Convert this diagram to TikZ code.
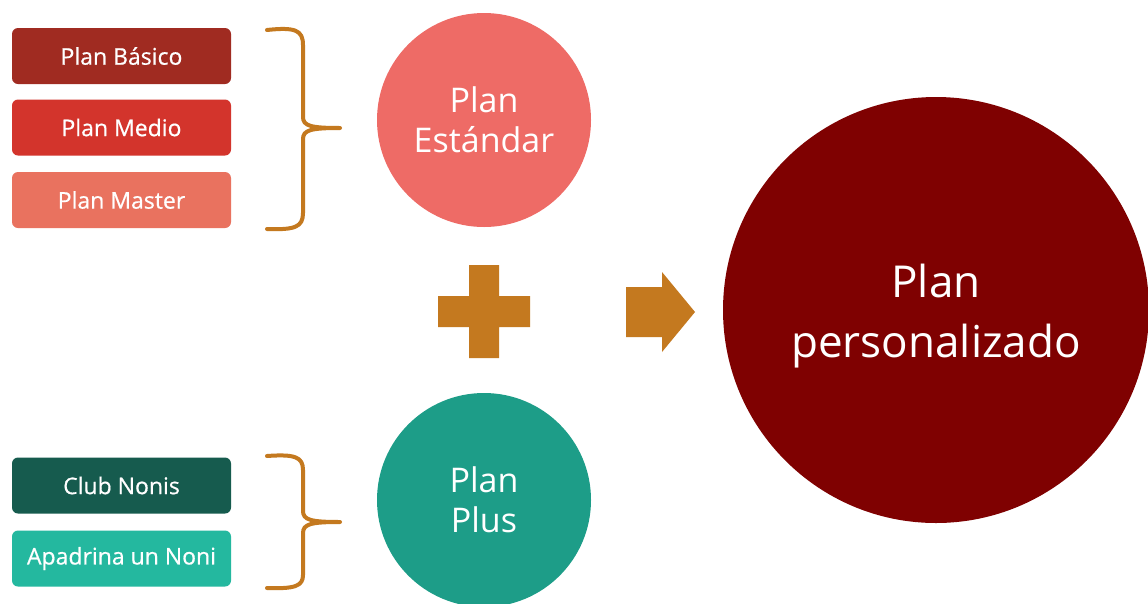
\documentclass[tikz,border=0pt]{standalone}
\usepackage{fontspec}
\setmainfont{Open Sans}
\definecolor{basicoc}{HTML}{A02B21}
\definecolor{medioc}{HTML}{D3342C}
\definecolor{masterc}{HTML}{E9725F}
\definecolor{estandarc}{HTML}{EE6B66}
\definecolor{clubc}{HTML}{165B4E}
\definecolor{apadrinac}{HTML}{24B89F}
\definecolor{plusc}{HTML}{1D9D88}
\definecolor{personalc}{HTML}{7F0101}
\definecolor{accentc}{HTML}{C4791F}
\begin{document}
\begin{tikzpicture}[x=1pt,y=-1pt,
  planbox/.style={rectangle, rounded corners=6pt, minimum width=219pt,
    minimum height=56pt, inner sep=0pt, text=white,
    font=\fontsize{23}{26}\selectfont\addfontfeature{FakeBold=0.6}},
  plancircle/.style={circle, minimum size=214pt, inner sep=0pt, text=white,
    align=center, font=\fontsize{34}{40}\selectfont},
  bracket/.style={draw=accentc, line width=4pt, line cap=round, line join=round},
  sign/.style={fill=accentc}]
\useasboundingbox (0,0) rectangle (1148,603);
\clip (0,0) rectangle (1148,603);
\fill[white] (0,0) rectangle (1148,603);

% standard plans
\node[planbox, fill=basicoc] (basico) at (121.5,56) {Plan Básico};
\node[planbox, fill=medioc] (medio) at (121.5,127.5) {Plan Medio};
\node[planbox, fill=masterc] (master) at (121.5,200) {Plan Master};

% plus options
\node[planbox, fill=clubc] (club) at (121.5,485.5) {Club Nonis};
\node[planbox, fill=apadrinac] (apadrina) at (121.5,558.5) {Apadrina un Noni};

% circles
\node[plancircle, fill=estandarc] (estandar) at (484,120) {Plan\\Estándar};
\node[plancircle, fill=plusc] (plus) at (484,500) {Plan\\Plus};
\node[circle, minimum size=426pt, inner sep=0pt, fill=personalc] (personal)
  at (936,310) {};
\node[text=white, align=center, font=\fontsize{44}{60}\selectfont]
  (personaltext) at ([yshift=-6pt]personal.center) {Plan\\personalizado};

% brackets grouping the boxes
\coordinate (tipA) at (340,128);
\coordinate (tipB) at (340,522);
\draw[bracket] (267,30) .. controls (295,27) and (303,30) .. (303,45)
  -- (303,117) .. controls (303,126) and (311,128) .. (tipA)
  .. controls (311,128) and (303,130) .. (303,139)
  -- (303,213) .. controls (303,227) and (295,230) .. (267,229);
\draw[bracket] (267,456) .. controls (295,454) and (303,457) .. (303,470)
  -- (303,511) .. controls (303,520) and (311,522) .. (tipB)
  .. controls (311,522) and (303,524) .. (303,533)
  -- (303,575) .. controls (303,586) and (295,589) .. (267,588);

% plus sign
\fill[sign] (469,265) -- (499,265) -- (499,296) -- (530,296) -- (530,327)
  -- (499,327) -- (499,358) -- (469,358) -- (469,327) -- (438,327)
  -- (438,296) -- (469,296) -- cycle;

% arrow
\fill[sign] (626,287) -- (662,287) -- (662,272) -- (695,312) -- (662,352)
  -- (662,337) -- (626,337) -- cycle;
\end{tikzpicture}
\end{document}
